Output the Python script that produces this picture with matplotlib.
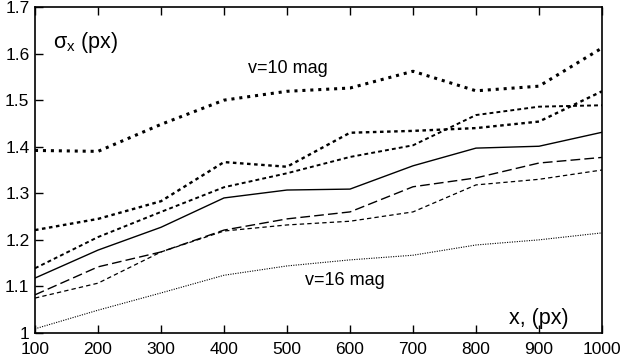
import matplotlib
matplotlib.use("Agg")
import matplotlib.pyplot as plt

plt.rcParams['font.family'] = ['Liberation Sans', 'DejaVu Sans']
plt.rcParams['mathtext.fontset'] = 'custom'
plt.rcParams['mathtext.rm'] = 'Liberation Sans'

x = [100, 200, 300, 400, 500, 600, 700, 800, 900, 1000]

# sigma_x per magnitude, brightest (v=10) on top, faintest (v=16) at bottom
s_v10 = [1.392, 1.390, 1.448, 1.500, 1.519, 1.526, 1.562, 1.520, 1.530, 1.612]
s_v11 = [1.221, 1.245, 1.283, 1.367, 1.357, 1.430, 1.434, 1.440, 1.454, 1.519]
s_v12 = [1.139, 1.206, 1.260, 1.313, 1.343, 1.378, 1.403, 1.468, 1.486, 1.489]
s_v13 = [1.118, 1.178, 1.227, 1.290, 1.307, 1.309, 1.359, 1.397, 1.401, 1.431]
s_v14 = [1.082, 1.142, 1.174, 1.221, 1.245, 1.260, 1.314, 1.333, 1.365, 1.377]
s_v15 = [1.075, 1.107, 1.174, 1.219, 1.232, 1.240, 1.260, 1.318, 1.330, 1.350]
s_v16 = [1.009, 1.049, 1.086, 1.124, 1.144, 1.157, 1.167, 1.189, 1.200, 1.215]

xticks = [100, 200, 300, 400, 500, 600, 700, 800, 900, 1000]
yticks = [1.0, 1.1, 1.2, 1.3, 1.4, 1.5, 1.6, 1.7]
ytick_labels = ['1', '1.1', '1.2', '1.3', '1.4', '1.5', '1.6', '1.7']

fig = plt.figure(figsize=(6.21, 3.57), dpi=100)
ax = fig.add_axes([35 / 621, 1 - 333 / 357, 567 / 621, 326 / 357])

k = 'black'
ax.plot(x, s_v10, color=k, lw=2.2, linestyle=(0, (1.0, 1.6)))
ax.plot(x, s_v11, color=k, lw=1.7, linestyle=(0, (1.5, 1.5)))
ax.plot(x, s_v12, color=k, lw=1.4, linestyle=(0, (2.0, 1.6)))
ax.plot(x, s_v13, color=k, lw=1.0, linestyle='-')
ax.plot(x, s_v14, color=k, lw=1.0, linestyle=(0, (7, 3)))
ax.plot(x, s_v15, color=k, lw=0.9, linestyle=(0, (3.5, 2.5)))
ax.plot(x, s_v16, color=k, lw=0.8, linestyle=(0, (1.0, 1.2)))

ax.set_xlim(100, 1000)
ax.set_ylim(1.0, 1.7)
ax.set_xticks(xticks)
ax.set_yticks(yticks)
ax.set_yticklabels(ytick_labels)
ax.tick_params(direction='in', length=6, width=1, labelsize=12.5, top=True, right=False)
ax.tick_params(axis='x', pad=6.5)
ax.tick_params(axis='y', pad=4)
for sp in ax.spines.values():
    sp.set_linewidth(1.2)

ax.text(0.032, 0.89, r'$\mathregular{σ_x}$ (px)', transform=ax.transAxes, fontsize=15.5,
        va='center', ha='left')
ax.text(438, 1.569, 'v=10 mag', fontsize=13, va='center', ha='left')
ax.text(528, 1.112, 'v=16 mag', fontsize=13, va='center', ha='left')
ax.text(0.942, 0.045, 'x, (px)', transform=ax.transAxes, fontsize=15.5,
        va='center', ha='right')

fig.savefig('out.png', dpi=100)
